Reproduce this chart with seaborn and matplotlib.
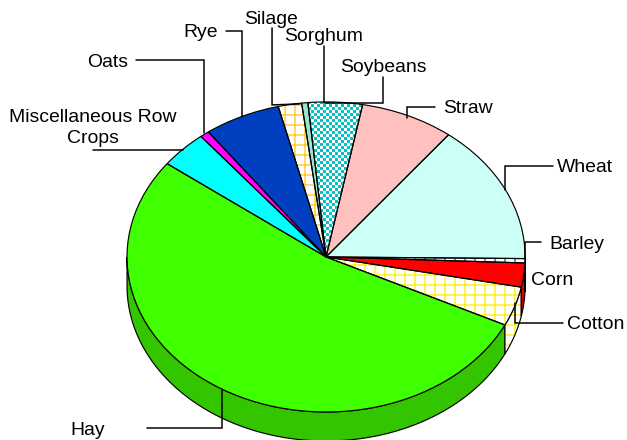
import numpy as np
import matplotlib
matplotlib.use("Agg")
import matplotlib.pyplot as plt
import seaborn as sns

crops = ["Wheat", "Straw", "Soybeans", "Sorghum", "Silage", "Rye", "Oats",
         "Miscellaneous Row\nCrops", "Hay", "Cotton", "Corn", "Barley"]
shares = [14.6, 7.6, 4.4, 0.5, 1.9, 6.2, 0.75, 3.9, 53.0, 4.1, 2.5, 0.45]
top_colors = ["#CCFFF5", "#FFC0C0", "#FFFFFF", "#99E6C8", "#FFFFFF", "#0040C0", "#FF00FF",
              "#00FFFF", "#40FF00", "#FFFFFF", "#FF0000", "#FFFFFF"]
side_colors = ["#A3CCC4", "#CC9999", "#FFFFFF", "#7AB8A0", "#FFFFFF", "#0033A0", "#CC00CC",
               "#00CCCC", "#33C600", "#FFFFFF", "#E00000", "#FFFFFF"]
hatches = [None, None, None, None, "++", None, None, None, None, "++", None, "++"]
hatch_colors = {"Silage": "#FFC81E", "Cotton": "#FFF000", "Barley": "#2050C0"}

label_pos = [(585, 167), (468, 108), (383, 67), (324, 36), (271, 19), (201, 32), (108, 62),
             (93, 128), (88, 430), (596, 324), (552, 280), (577, 244)]
leaders = [[(505, 190), (505, 166), (553, 166)],
           [(407, 118), (407, 107), (435, 107)],
           [(383, 77), (383, 103), (325, 103)],
           [(324, 46), (324, 103)],
           [(272, 28), (272, 105), (300, 104)],
           [(226, 31), (242, 31), (242, 117)],
           [(136, 60), (204, 60), (204, 133)],
           [(93, 150), (183, 150)],
           [(147, 428), (222, 428), (222, 389)],
           [(563, 323), (515, 323), (515, 303)],
           [(541, 242), (525, 242), (525, 259)]]

# pixels of the ellipse in the picture
center_x, center_y = 326, 257
radius_x, radius_y = 199, 155
depth = 29 / radius_y
start_angle = -0.6

sns.set_theme(style="white")
plt.rcParams["font.family"] = ["Liberation Sans", "DejaVu Sans"]
plt.rcParams["hatch.linewidth"] = 0.8

fig = plt.figure(figsize=(627.1 / 120, 440.1 / 120), dpi=120)
ax = fig.add_axes([0, 0, 1, 1])
x_range = (-center_x / radius_x, (627 - center_x) / radius_x)
y_range = ((center_y - 440) / radius_y, center_y / radius_y)

# side wall, only the front half shows
edges = start_angle + np.cumsum([0] + shares) / np.sum(shares) * 360
for i, crop in enumerate(crops):
    t0 = max(edges[i], 180)
    t1 = min(edges[i + 1], 360)
    if t1 <= t0:
        t0 = max(edges[i] - 360, -180)
        t1 = min(edges[i + 1] - 360, 0)
        if t1 <= t0:
            continue
    t = np.radians(np.linspace(t0, t1, 80))
    xs = np.concatenate([np.cos(t), np.cos(t[::-1])])
    ys = np.concatenate([np.sin(t), np.sin(t[::-1]) - depth])
    ax.fill(xs, ys, facecolor=side_colors[i], edgecolor=hatch_colors.get(crop, side_colors[i]),
            hatch=hatches[i], linewidth=0)
    ax.fill(xs, ys, facecolor="none", edgecolor="black", linewidth=0.7)

# top face, hatch first then the black outlines
wedges, _ = ax.pie(shares, colors=top_colors, startangle=start_angle, counterclock=True,
                   hatch=hatches, wedgeprops={"linewidth": 0})
for crop, wedge in zip(crops, wedges):
    wedge.set_edgecolor(hatch_colors.get(crop, wedge.get_facecolor()))
    wedge.set_linewidth(0)

# soybeans has a checker fill, hatch can't do that
rows, cols = np.indices((440 // 3 + 1, 627 // 3 + 1))
checker = np.zeros((*rows.shape, 4))
checker[..., :3] = matplotlib.colors.to_rgb("#00C4C4")
checker[..., 3] = (rows + cols) % 2
image = ax.imshow(checker, extent=(*x_range, *y_range), aspect="auto", interpolation="nearest", zorder=2)
image.set_clip_path(wedges[crops.index("Soybeans")])

ax.pie(shares, colors=["none"] * len(shares), startangle=start_angle, counterclock=True,
       wedgeprops={"linewidth": 0.7, "edgecolor": "black", "zorder": 3})

ax.set_aspect("auto")
ax.set_xlim(*x_range)
ax.set_ylim(*y_range)

# labels and leader lines in picture pixels
overlay = fig.add_axes([0, 0, 1, 1], facecolor="none")
overlay.set_xlim(0, 627)
overlay.set_ylim(440, 0)
overlay.axis("off")
for line in leaders:
    xs, ys = zip(*line)
    overlay.plot(xs, ys, color="black", linewidth=0.9, solid_joinstyle="miter")
for crop, (x, y) in zip(crops, label_pos):
    overlay.text(x, y, crop, ha="center", va="center", fontsize=11.6, color="black", linespacing=1.3)

fig.savefig("out.png", dpi=120)
